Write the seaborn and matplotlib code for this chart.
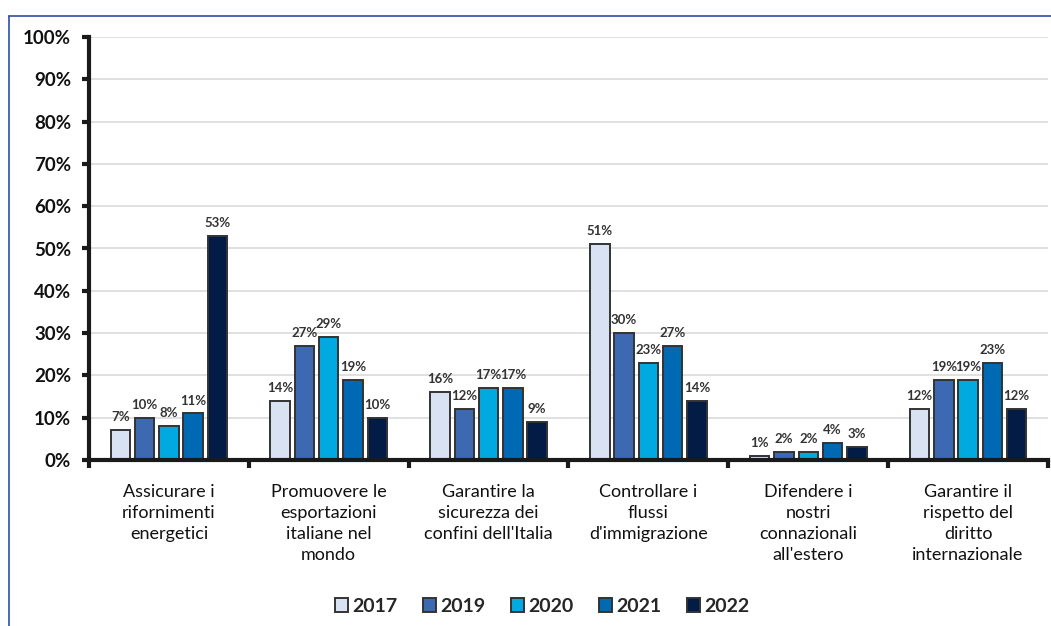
import matplotlib
matplotlib.use("Agg")
import matplotlib.pyplot as plt
import seaborn as sns
import pandas as pd
from matplotlib.lines import Line2D

categories = [
    "Assicurare i\nrifornimenti\nenergetici",
    "Promuovere le\nesportazioni\nitaliane nel\nmondo",
    "Garantire la\nsicurezza dei\nconfini dell'Italia",
    "Controllare i\nflussi\nd'immigrazione",
    "Difendere i\nnostri\nconnazionali\nall'estero",
    "Garantire il\nrispetto del\ndiritto\ninternazionale",
]
years = ["2017", "2019", "2020", "2021", "2022"]
values_2017 = [7, 14, 16, 51, 1, 12]
values_2019 = [10, 27, 12, 30, 2, 19]
values_2020 = [8, 29, 17, 23, 2, 19]
values_2021 = [11, 19, 17, 27, 4, 23]
values_2022 = [53, 10, 9, 14, 3, 12]
y_ticks = [0, 10, 20, 30, 40, 50, 60, 70, 80, 90, 100]

colors = ["#D9E2F3", "#3D69B3", "#00AAE1", "#0069B4", "#021C45"]

series = [values_2017, values_2019, values_2020, values_2021, values_2022]
rows = []
for yr, vals in zip(years, series):
    for cat, v in zip(categories, vals):
        rows.append({"categoria": cat, "anno": yr, "valore": v})
df = pd.DataFrame(rows)

sns.set_theme(style="white")
plt.rcParams["font.family"] = ["Lato", "DejaVu Sans"]

W, H = 1051, 626
fig = plt.figure(figsize=(W / 100, H / 100), dpi=100)
ax = fig.add_axes([89 / W, 1 - 460 / H, (1048 - 89) / W, (460 - 37) / H])

sns.barplot(
    data=df, x="categoria", y="valore", hue="anno", order=categories,
    hue_order=years, palette=colors, width=0.76, gap=0.2, saturation=1,
    edgecolor="#333333", linewidth=1.4, ax=ax, errorbar=None, legend=True,
)

for cont in ax.containers:
    ax.bar_label(cont, labels=[f"{int(round(b.get_height()))}%" for b in cont],
                 padding=5, fontsize=9.5, fontweight="bold", color="#333333")

ax.set_ylim(0, 100)
ax.set_xlim(-0.5, len(categories) - 0.5)
ax.set_yticks(y_ticks)
ax.set_yticklabels([f"{t}%" for t in y_ticks], fontsize=13.5, fontweight="bold",
                   color="#111111")
ax.yaxis.grid(True, color="#DADADA", linewidth=1.2)
ax.set_axisbelow(True)

# category boundaries as major ticks, labels at centers as minor ticks
ax.set_xticks([i - 0.5 for i in range(len(categories) + 1)])
ax.set_xticklabels([])
ax.set_xticks(range(len(categories)), minor=True)
ax.set_xticklabels(categories, minor=True, fontsize=13, color="#111111",
                   linespacing=1.4)
ax.tick_params(axis="x", which="major", direction="out", length=6, width=3,
               color="#1a1a1a", bottom=True)
ax.tick_params(axis="x", which="minor", length=0, pad=17)
ax.tick_params(axis="y", direction="out", length=5, width=3, color="#1a1a1a",
               left=True, pad=8)
ax.set_xlabel("")
ax.set_ylabel("")

for side in ["top", "right"]:
    ax.spines[side].set_visible(False)
for side in ["left", "bottom"]:
    ax.spines[side].set_color("#1a1a1a")
    ax.spines[side].set_linewidth(3)

handles, labels = ax.get_legend_handles_labels()
legend_x = (542 - 89) / (1048 - 89)
legend_y = -(606 - 460) / (460 - 37)
ax.legend(handles, labels, loc="center", bbox_to_anchor=(legend_x, legend_y),
          ncol=5, frameon=False, prop={"weight": "bold", "size": 14},
          handlelength=0.7, handleheight=0.7, handletextpad=0.2, columnspacing=1.3)

# blue outer frame
fig.add_artist(Line2D([9 / W, 1.0], [1 - 16 / H, 1 - 16 / H], color="#2E4DA7",
                      linewidth=1.2, transform=fig.transFigure))
fig.add_artist(Line2D([9 / W, 9 / W], [1 - 16 / H, 0.0], color="#2E4DA7",
                      linewidth=1.2, transform=fig.transFigure))

fig.savefig("out.png", dpi=100)
